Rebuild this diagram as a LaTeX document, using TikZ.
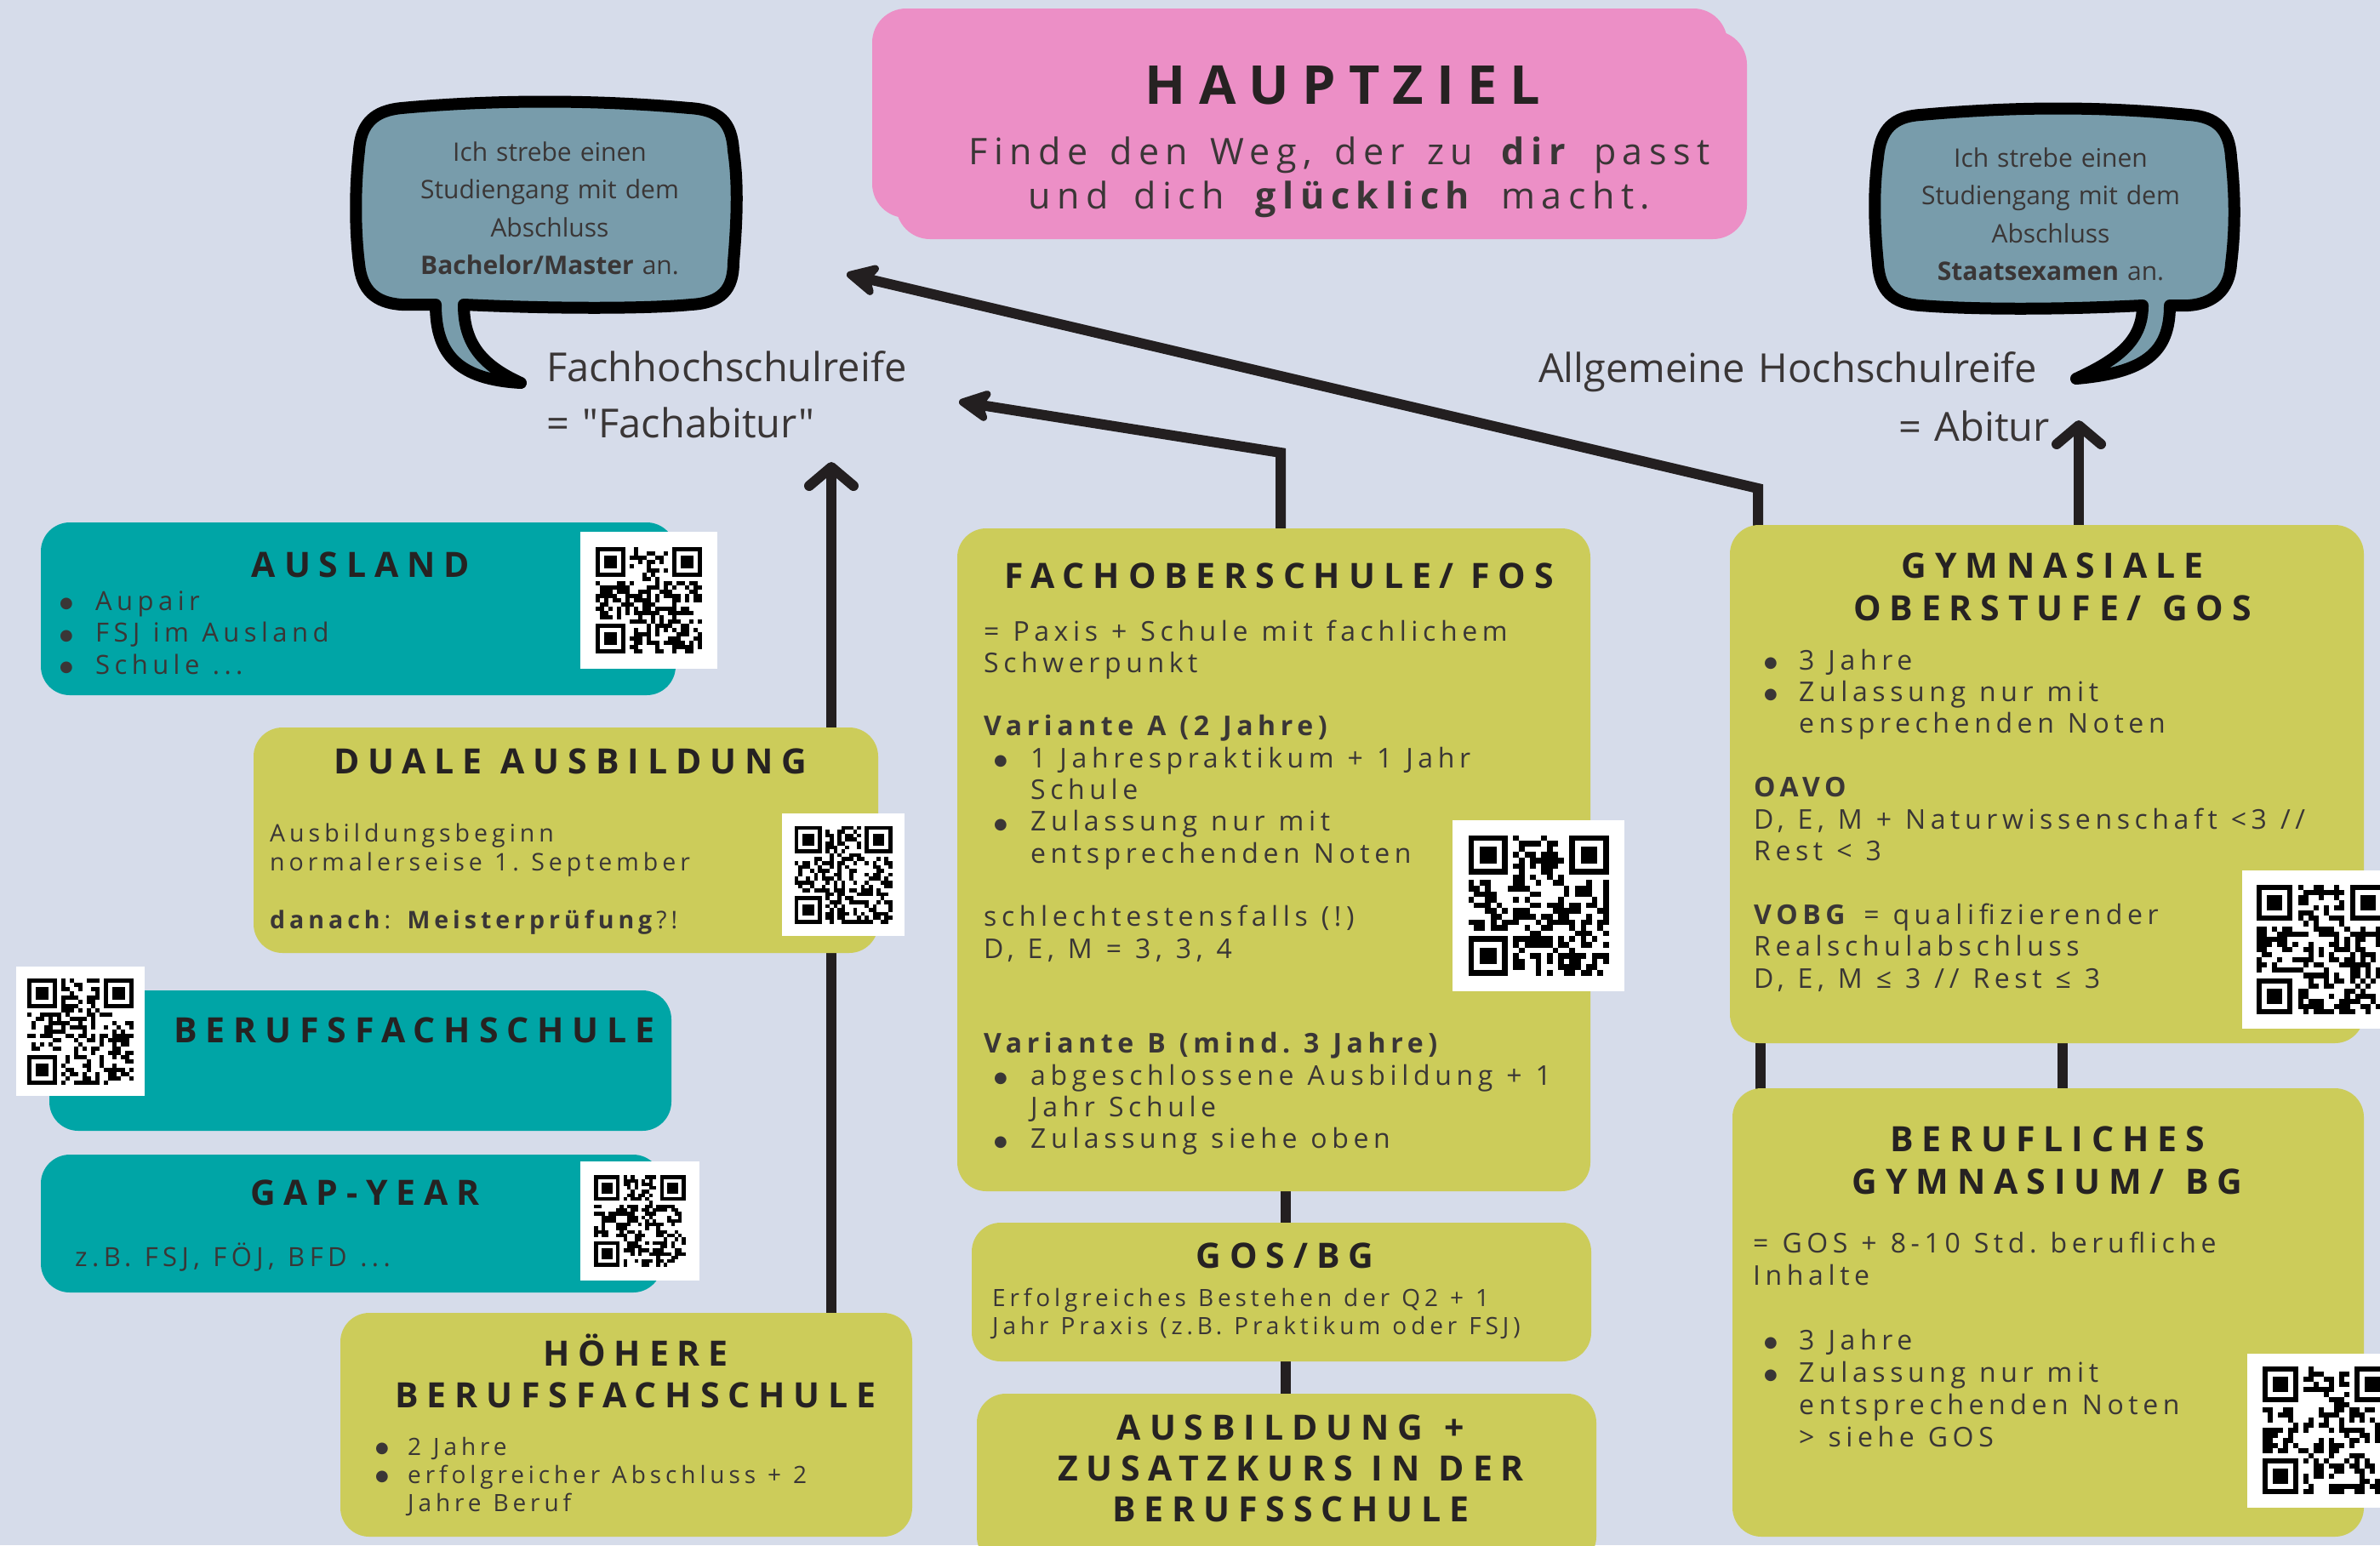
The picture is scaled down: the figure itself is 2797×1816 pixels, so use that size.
\documentclass[tikz,border=0pt]{standalone}
\usepackage{fontspec}
\usetikzlibrary{arrows.meta}
\newfontfamily\headf[LetterSpace=24]{Open Sans}
\newfontfamily\bodyf[LetterSpace=17.5]{Open Sans}
\newfontfamily\plainf{Open Sans}
\newfontfamily\symf{DejaVu Sans}
\definecolor{bgc}{HTML}{D6DCEA}
\definecolor{tealc}{HTML}{00A5A6}
\definecolor{olivec}{HTML}{CCCC5A}
\definecolor{pinkc}{HTML}{EC8FC6}
\definecolor{bubc}{HTML}{789CAB}
\definecolor{linec}{HTML}{231F20}
\definecolor{titc}{HTML}{262222}
\definecolor{bodyc}{HTML}{3A3636}
\pgfdeclarelayer{bgl}
\pgfdeclarelayer{back}
\pgfsetlayers{bgl,back,main}
% cx, cy, white width, white height, module size, seed
\newcommand\qrcode[6]{%
  \fill[white] ({#1-#3/2},{#2-#4/2}) rectangle ({#1+#3/2},{#2+#4/2});
  \begin{scope}[shift={({#1-12.5*#5},{#2-12.5*#5})},x=#5pt,y=-#5pt]
    \pgfmathsetseed{#6}%
    \foreach \i in {0,...,24}{\foreach \j in {0,...,24}{%
      \pgfmathtruncatemacro\qfin{((\i<8)&&(\j<8))||((\i>16)&&(\j<8))||((\i<8)&&(\j>16))}%
      \pgfmathtruncatemacro\qon{rnd<0.48}%
      \ifnum\qfin=0 \ifnum\qon=1 \fill[black] (\i,\j) rectangle ++(1,1);\fi\fi}}
    \foreach \a/\b in {0/0,18/0,0/18}{%
      \fill[black] (\a,\b) rectangle ++(7,7);
      \fill[white] (\a+1,\b+1) rectangle ++(5,5);
      \fill[black] (\a+2,\b+2) rectangle ++(3,3);}
  \end{scope}}
\newcommand\qbul[1]{\makebox[#1][l]{\raisebox{2.5pt}[0pt][0pt]{\symf\fontsize{18}{18}\selectfont ●}}}
\newcommand\hws{\spaceskip=0.45em plus 0.1em\relax}
\newcommand\bws{\spaceskip=0.5em plus 0.1em\relax}
\newcommand\sws{\spaceskip=0.55em plus 0.1em\relax}
\begin{document}
\begin{tikzpicture}[x=1pt,y=-1pt,
  box/.style={rounded corners=34pt, inner sep=0pt, draw=none},
  tealbox/.style={box, fill=tealc},
  olivebox/.style={box, fill=olivec},
  conn/.style={draw=linec, line width=12pt},
  arr/.style={conn, -{Stealth[length=46pt,width=46pt,inset=12pt,round]}},
  varr/.style={conn, -{Straight Barb[length=22pt,width=52pt,round]}},
  ttl/.style={font=\headf\bfseries\fontsize{41}{49}\selectfont, text=titc, align=center, text width=700pt, inner sep=0pt, anchor=base},
  bdy/.style={text=bodyc, align=left, inner sep=0pt, anchor=base west},
  bubt/.style={font=\plainf\fontsize{30}{44.5}\selectfont, text=bodyc, align=center, text width=400pt, inner sep=0pt, anchor=base},
  lbl/.style={font=\plainf\fontsize{47}{66}\selectfont, text=bodyc, align=left, inner sep=0pt, anchor=base west},
  bubble/.style={draw=black, fill=bubc, line width=14pt, line join=round}
]
\useasboundingbox (0,0) rectangle (2797,1816);
\begin{pgfonlayer}{bgl}
  \fill[bgc] (0,0) rectangle (2797,1816);
\end{pgfonlayer}
\clip (0,0) rectangle (2797,1816);

% ---------- boxes ----------
\node[tealbox, minimum width=746pt, minimum height=203pt] (ausland) at (421,715.5) {};
\node[olivebox, minimum width=734pt, minimum height=265pt] (duale) at (665,987.5) {};
\node[tealbox, minimum width=731pt, minimum height=165pt] (berufs) at (423.5,1246.5) {};
\node[tealbox, minimum width=730pt, minimum height=162pt] (gap) at (413,1438) {};
\node[olivebox, minimum width=672pt, minimum height=263pt] (hoehere) at (736,1674.5) {};
\node[olivebox, minimum width=744pt, minimum height=779pt] (fos) at (1497,1010.5) {};
\node[olivebox, minimum width=728pt, minimum height=163pt] (gosbg) at (1506,1518.5) {};
\node[olivebox, minimum width=728pt, minimum height=202pt] (ausb) at (1512,1739) {};
\node[olivebox, minimum width=745pt, minimum height=609pt] (gos) at (2405.5,921.5) {};
\node[olivebox, minimum width=742pt, minimum height=527pt] (bg) at (2407,1542.5) {};

% ---------- connectors ----------
\begin{pgfonlayer}{back}
  \coordinate (kneeA) at (2066,574);
  \coordinate (tipA) at (995,322);
  \coordinate (kneeB) at (1505,532);
  \coordinate (tipB) at (1127,472);
  \coordinate (tipC) at (977,543);
  \coordinate (tipD) at (2443,494);
  \coordinate (colM) at (1511,0);
  \coordinate (colL) at (2069,0);
  \coordinate (colR) at (2424,0);
  \draw[arr] (kneeA |- gos.center) -- (kneeA) -- (tipA);
  \draw[arr] (kneeB |- fos.center) -- (kneeB) -- (tipB);
  \draw[varr] (tipC |- hoehere.center) -- (tipC);
  \draw[varr] (tipD |- gos.center) -- (tipD);
  \draw[conn] (colM |- fos.center) -- (colM |- ausb.center);
  \draw[conn] (colL |- gos.center) -- (colL |- bg.center);
  \draw[conn] (colR |- gos.center) -- (colR |- bg.center);
\end{pgfonlayer}

% ---------- main goal ----------
\fill[pinkc, rounded corners=40pt] (1025,10) rectangle (2030,256);
\fill[pinkc, rounded corners=40pt] (1053,36) rectangle (2053,281);
\node[font=\headf\bfseries\fontsize{63}{70}\selectfont, text=titc, anchor=base, inner sep=0pt] (haupt) at (1578,122) {HAUPTZIEL};
\node[font=\bodyf\fontsize{43}{52}\selectfont, text=bodyc, align=center, text width=960pt, inner sep=0pt, anchor=base] (finde) at (1574,193)
  {\sws Finde den Weg, der zu \textbf{dir} passt\\und dich \textbf{glücklich} macht.};

% ---------- speech bubbles ----------
\draw[bubble] (545,358) .. controls (650,363) and (760,363) .. (812,358)
  .. controls (848,356) and (862,340) .. (862,308)
  .. controls (867,250) and (867,210) .. (862,177)
  .. controls (860,143) and (845,129) .. (810,127)
  .. controls (700,117) and (580,117) .. (472,127)
  .. controls (440,130) and (424,145) .. (422,177)
  .. controls (417,220) and (417,270) .. (422,310)
  .. controls (425,340) and (440,356) .. (472,358)
  -- (512,358)
  .. controls (512,418) and (540,446) .. (612,450)
  .. controls (568,430) and (545,405) .. (545,358) -- cycle;
\node[bubt] (bubL) at (646,189) {Ich strebe einen\\Studiengang mit dem\\Abschluss\\\textbf{Bachelor/Master} an.};

\draw[bubble] (2518,359) .. controls (2420,364) and (2320,364) .. (2257,359)
  .. controls (2225,357) and (2209,342) .. (2207,310)
  .. controls (2202,260) and (2202,220) .. (2207,185)
  .. controls (2210,152) and (2225,137) .. (2257,135)
  .. controls (2370,125) and (2470,125) .. (2572,135)
  .. controls (2605,137) and (2620,152) .. (2622,185)
  .. controls (2627,230) and (2627,270) .. (2622,310)
  .. controls (2620,342) and (2600,357) .. (2572,359)
  -- (2550,359)
  .. controls (2550,415) and (2520,438) .. (2440,445)
  .. controls (2490,422) and (2518,400) .. (2518,359) -- cycle;
\node[bubt] (bubR) at (2410,196) {Ich strebe einen\\Studiengang mit dem\\Abschluss\\\textbf{Staatsexamen} an.};

% ---------- labels ----------
\node[lbl, text width=440pt] (fhr) at (642,448) {Fachhochschulreife\\= "Fachabitur"};
\node[lbl, text width=600pt] (ahr) at (1808,449) {Allgemeine Hochschulreife};
\node[lbl, text width=200pt] (abi) at (2231,518) {= Abitur};

% ---------- QR codes ----------
\qrcode{762}{705}{161}{161}{5}{11}
\qrcode{991}{1028}{144}{144}{4.6}{23}
\qrcode{94.5}{1212}{151}{152}{5}{37}
\qrcode{752}{1435}{140}{140}{4.3}{41}
\qrcode{1808}{1064}{202}{201}{6.6}{53}
\qrcode{2728}{1116}{186}{186}{6.1}{67}
\qrcode{2734}{1681}{186}{181}{6}{79}

% ---------- texts in boxes ----------
\node[ttl, text width=420pt] (tAusland) at (424,678) {\hws AUSLAND};
\node[bdy, text width=560pt, font=\bodyf\fontsize{31}{37.5}\selectfont] (bAusland) at (70,717)
  {\bws\qbul{42pt}Aupair\\\qbul{42pt}FSJ im Ausland\\\qbul{42pt}Schule ...};

\node[ttl] (tDuale) at (670,909) {\hws DUALE AUSBILDUNG};
\node[bdy, text width=590pt, font=\bodyf\fontsize{28.5}{34}\selectfont] (bDuale) at (317,989)
  {\bws Ausbildungsbeginn\\normalerseise 1. September\\[34pt]\textbf{danach}: \textbf{Meisterprüfung}?!};

\node[ttl, text width=620pt] (tBerufs) at (487,1225) {\hws BERUFSFACHSCHULE};

\node[ttl, text width=420pt] (tGap) at (429,1416) {\hws GAP-YEAR};
\node[bdy, text width=580pt, font=\bodyf\fontsize{31}{37}\selectfont] (bGap) at (88,1488) {\bws z.B. FSJ, FÖJ, BFD ...};

\node[ttl, text width=650pt] (tHoehere) at (747,1605) {\hws HÖHERE\\BERUFSFACHSCHULE};
\node[bdy, text width=610pt, font=\bodyf\fontsize{28}{33}\selectfont] (bHoehere) at (441,1710)
  {\bws\qbul{38pt}2 Jahre\\\qbul{38pt}erfolgreicher Abschluss + 2\\\hspace*{38pt}Jahre Beruf};

\node[ttl] (tFos) at (1503,691) {\hws FACHOBERSCHULE/ FOS};
\node[bdy, text width=705pt, font=\bodyf\fontsize{32}{37.3}\selectfont] (bFos) at (1156,753)
  {\bws = Paxis + Schule mit fachlichem\\Schwerpunkt\\[37.3pt]
   \textbf{Variante A (2 Jahre)}\\
   \hspace*{12pt}\qbul{43pt}1 Jahrespraktikum + 1 Jahr\\
   \hspace*{55pt}Schule\\
   \hspace*{12pt}\qbul{43pt}Zulassung nur mit\\
   \hspace*{55pt}entsprechenden Noten\\[37.3pt]
   schlechtestensfalls (!)\\
   D, E, M = 3, 3, 4\\[74.6pt]
   \textbf{Variante B (mind. 3 Jahre)}\\
   \hspace*{12pt}\qbul{43pt}abgeschlossene Ausbildung + 1\\
   \hspace*{55pt}Jahr Schule\\
   \hspace*{12pt}\qbul{43pt}Zulassung siehe oben};

\node[ttl] (tGosbg) at (1510,1490) {\hws GOS/BG};
\node[bdy, text width=690pt, font=\bodyf\fontsize{28}{33}\selectfont] (bGosbg) at (1166,1535)
  {\bws Erfolgreiches Bestehen der Q2 + 1\\Jahr Praxis (z.B. Praktikum oder FSJ)};

\node[ttl, font=\headf\bfseries\fontsize{41}{48}\selectfont] (tAusb) at (1517,1692) {\hws AUSBILDUNG +\\ZUSATZKURS IN DER\\BERUFSSCHULE};

\node[ttl, font=\headf\bfseries\fontsize{41}{50}\selectfont] (tGos) at (2412,679) {\hws GYMNASIALE\\OBERSTUFE/ GOS};
\node[bdy, text width=715pt, font=\bodyf\fontsize{32}{37.4}\selectfont] (bGos) at (2061,787)
  {\bws\hspace*{12pt}\qbul{41pt}3 Jahre\\
   \hspace*{12pt}\qbul{41pt}Zulassung nur mit\\
   \hspace*{53pt}ensprechenden Noten\\[37.4pt]
   \textbf{OAVO}\\
   D, E, M + Naturwissenschaft <3 //\\
   Rest < 3\\[37.4pt]
   \textbf{VOBG} = qualifizierender\\
   Realschulabschluss\\
   D, E, M ≤ 3 // Rest ≤ 3};

\node[ttl, font=\headf\bfseries\fontsize{41}{50}\selectfont] (tBg) at (2406,1353) {\hws BERUFLICHES\\GYMNASIUM/ BG};
\node[bdy, text width=715pt, font=\bodyf\fontsize{32}{38}\selectfont] (bBg) at (2060,1472)
  {\bws = GOS + 8-10 Std. berufliche\\Inhalte\\[38pt]
   \hspace*{13pt}\qbul{41pt}3 Jahre\\
   \hspace*{13pt}\qbul{41pt}Zulassung nur mit\\
   \hspace*{54pt}entsprechenden Noten\\
   \hspace*{54pt}> siehe GOS};
\end{tikzpicture}
\end{document}
